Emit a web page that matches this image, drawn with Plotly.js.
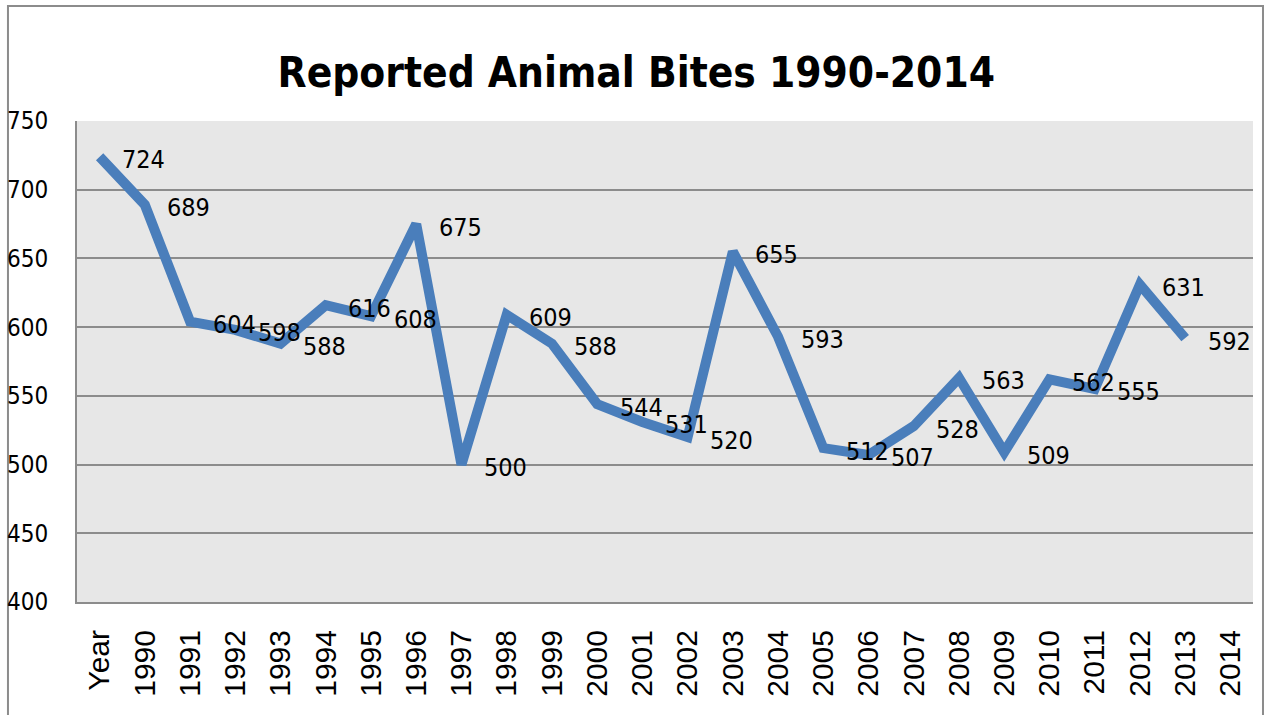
<!DOCTYPE html>
<html>
<head>
<meta charset="utf-8">
<script src="https://cdn.plot.ly/plotly-3.0.1.min.js"></script>
<style>
  html, body { margin: 0; padding: 0; background: #ffffff; }
  #chart { width: 1265px; height: 715px; }
</style>
</head>
<body>
<div id="chart"></div>
<script>
// ---- data ----
var categories = ['Year', '1990', '1991', '1992', '1993', '1994', '1995', '1996', '1997', '1998',
  '1999', '2000', '2001', '2002', '2003', '2004', '2005', '2006', '2007', '2008',
  '2009', '2010', '2011', '2012', '2013', '2014'];
var bites = [724, 689, 604, 598, 588, 616, 608, 675, 500, 609,
  588, 544, 531, 520, 655, 593, 512, 507, 528, 563,
  509, 562, 555, 631, 592];
var yTicks = [400, 450, 500, 550, 600, 650, 700, 750];
var chartTitle = 'Reported Animal Bites 1990-2014';

var narrow = '"DejaVu Sans Condensed", "Liberation Sans", sans-serif';
var xs = categories.slice(0, bites.length);

var trace = {
  x: xs,
  y: bites,
  type: 'scatter',
  mode: 'lines',
  line: { color: '#4a7ebb', width: 10 },
  hoverinfo: 'x+y',
  showlegend: false
};

// data labels, placed through the category axis by index
var annotations = bites.map(function (v, i) {
  return {
    x: i, y: v, xref: 'x', yref: 'y',
    text: String(v), showarrow: false,
    xshift: 44, yshift: -3,
    font: { family: narrow, size: 25, color: '#000000' }
  };
});

var layout = {
  width: 1265,
  height: 715,
  paper_bgcolor: '#ffffff',
  plot_bgcolor: '#e7e7e7',
  margin: { l: 77, r: 12, t: 121, b: 113, pad: 0 },
  title: {
    text: '<b>' + chartTitle + '</b>',
    font: { family: narrow, size: 42, color: '#000000' },
    x: 0.503, xref: 'container', xanchor: 'center',
    y: 0.899, yref: 'container', yanchor: 'middle'
  },
  xaxis: {
    type: 'category',
    categoryorder: 'array',
    categoryarray: categories,
    range: [-0.5, categories.length - 0.5],
    tickangle: -90,
    tickfont: { family: '"Liberation Sans", Arial, sans-serif', size: 30, color: '#000000' },
    ticks: 'outside', ticklen: 14, tickcolor: 'rgba(0,0,0,0)',
    showgrid: false,
    showline: true, linecolor: '#8c8c8c', linewidth: 2,
    zeroline: false,
    fixedrange: true
  },
  yaxis: {
    range: [400, 750],
    tickmode: 'array',
    tickvals: yTicks,
    ticktext: yTicks.map(String),
    tickfont: { family: narrow, size: 24, color: '#000000' },
    ticks: 'outside', ticklen: 22, tickcolor: 'rgba(0,0,0,0)',
    showgrid: true, gridcolor: '#8c8c8c', gridwidth: 2,
    showline: true, linecolor: '#8c8c8c', linewidth: 2,
    zeroline: false,
    fixedrange: true
  },
  annotations: annotations,
  shapes: [{
    type: 'rect', xref: 'paper', yref: 'paper',
    x0: -0.0587, x1: 1.0085, y0: -0.3, y1: 1.2391,
    line: { color: '#8c8c8c', width: 2 },
    fillcolor: 'rgba(0,0,0,0)', layer: 'below'
  }]
};

Plotly.newPlot('chart', [trace], layout, { displayModeBar: false, staticPlot: true });
</script>
</body>
</html>
